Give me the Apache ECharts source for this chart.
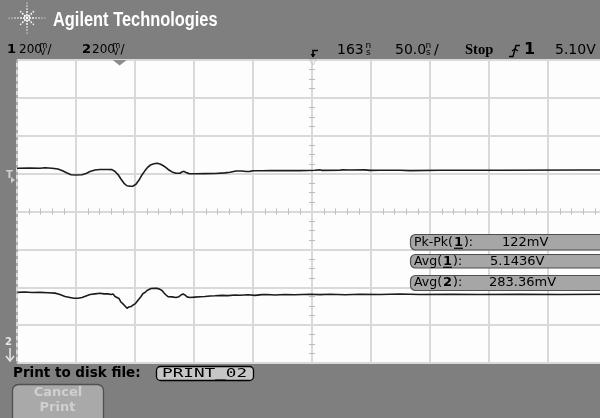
<!DOCTYPE html>
<html>
<head>
<meta charset="utf-8">
<script src="https://cdn.jsdelivr.net/npm/echarts@6/dist/echarts.min.js"></script>
<style>
  html, body { margin: 0; padding: 0; width: 600px; height: 418px; overflow: hidden; background: #7f7f7f; }
  #scope { width: 607px; height: 418px; }
</style>
</head>
<body>
<div id="scope"></div>
<script>
// Horizontal: ns from screen centre (50 ns/div, 10 divisions).
// Vertical: mV from screen centre (200 mV/div on both channels, 8 divisions).
const TIME_PER_DIV = 50;
const VOLT_PER_DIV = 200;
const DELAY_NS = 163;

const ch1Time = [-250, -239, -230.5, -226.3, -220.3, -215.3, -211, -207.6, -204.2, -200, -194.9, -191.5,
  -188.1, -183.9, -179.7, -172.9, -169.5, -166.9, -164.4, -161.9, -159.3, -156.8, -154.2, -151.7,
  -149.2, -146.6, -144.1, -141.5, -139, -136.4, -133.9, -131.4, -128.8, -126.3, -123.7, -121.2,
  -118.6, -115.3, -111.9, -110.2, -108.5, -106.8, -104.2, -99.2, -90.7, -82.2, -73.7, -69.5,
  -64.4, -59.3, -55.9, -52.5, -50, -42.4, -35.6, -27.1, -10.2, 2.5, 3.4, 6.8, 8.5, 23.7, 25.4,
  32.2, 44.9, 49.2, 57.6, 74.6, 83.1, 108.5, 159.3, 227.1, 250];
const ch1Level = [228, 229, 228, 231, 228, 224, 214, 203, 194, 193, 194, 201,
  211, 219, 222, 222, 221, 211, 195, 172, 149, 136, 133, 134,
  144, 166, 193, 216, 235, 247, 252, 255, 251, 243, 232, 219,
  209, 202, 202, 209, 212, 206, 200, 199, 200, 201, 204, 207,
  214, 214, 211, 212, 215, 215, 216, 216, 216, 218, 221, 220, 217, 218, 220,
  219, 220, 217, 218, 218, 216, 218, 218, 219, 219];

const ch2Time = [-250, -243.2, -237.3, -230.5, -223.7, -217.8, -213.6, -209.3, -205.1, -201.7, -198.3,
  -194.9, -191.5, -188.1, -183.9, -179.7, -176.3, -172.9, -170.3, -168.6, -166.9, -165.3, -163.6,
  -161.9, -160.2, -158.5, -156.8, -155.1, -153.4, -151.7, -150, -148.3, -146.6, -144.9, -143.2,
  -141.5, -139.8, -138.1, -136.4, -133.9, -131.4, -128.8, -127.1, -125.4, -123.7, -122, -118.6,
  -115.3, -112.7, -111, -109.3, -107.6, -105.9, -103.4, -99.2, -94.9, -90.7, -86.4, -82.2, -76.3,
  -71.2, -65.3, -61, -54.2, -48.3, -42.4, -38.1, -31.4, -22.9, -14.4, -1.7, 6.8, 15.3, 28, 40.7,
  57.6, 74.6, 91.5, 116.9, 142.4, 176.3, 210.2, 250];
const ch2Level = [-427, -425, -428, -427, -429, -431, -438, -449, -454, -458, -458,
  -454, -446, -438, -435, -432, -435, -435, -438, -436, -449, -457, -459,
  -478, -488, -499, -511, -504, -502, -494, -488, -475, -462, -449, -433,
  -428, -417, -412, -407, -405, -406, -411, -417, -430, -441, -450, -451,
  -454, -450, -441, -436, -441, -451, -454, -452, -450, -449, -446, -445, -443,
  -444, -441, -442, -440, -443, -439, -438, -441, -438, -440, -437, -439, -437, -440, -437,
  -438, -436, -438, -437, -438, -437, -438, -437];

const measureLabels = ['Pk-Pk(', 'Avg(', 'Avg('];
const measureChannels = ['1', '1', '2'];
const measureValues = ['122mV', '5.1436V', '283.36mV'];
const fileName = 'PRINT_02';

const chart = echarts.init(document.getElementById('scope'), null, { renderer: 'canvas' });

const GRID = { left: 17, top: 60, width: 590, height: 303 };
const gridColor = '#d9d9d9';
const tickColor = '#bdbdbd';

function centreAxis(extra) {
  return Object.assign({
    type: 'value',
    axisLabel: { show: false },
    axisTick: { show: false },
    axisLine: { show: true, onZero: true, onZeroAxisIndex: 0, lineStyle: { color: gridColor, width: 1 } },
    splitLine: { show: false },
    minorTick: { show: true, length: 3, lineStyle: { color: tickColor, width: 1 } },
    minorSplitLine: { show: false }
  }, extra);
}

const xMin = -TIME_PER_DIV * 5, xMax = TIME_PER_DIV * 5;
const yMin = -VOLT_PER_DIV * 4, yMax = VOLT_PER_DIV * 4;

const FONT = '"DejaVu Sans"';
const measureCtx = document.createElement('canvas').getContext('2d');
function textWidth(text, font) { measureCtx.font = font; return measureCtx.measureText(text).width; }

function txt(x, y, text, font, fill, align, extra) {
  return Object.assign({
    type: 'text', x: x, y: y, z: 100,
    style: {
      text: text, font: font, fill: fill || '#000',
      textAlign: align || 'left', align: align || 'left',
      textVerticalAlign: 'middle', verticalAlign: 'middle'
    }
  }, extra || {});
}

const g = [];

// Agilent starburst logo
(function () {
  const cx = 27, cy = 18;
  for (let k = 0; k < 8; k++) {
    const a = k * Math.PI / 4;
    const len = (k % 4 === 0) ? 20 : (k % 2 === 0 ? 15 : 11);
    for (let r = 3; r <= len; r += 3) {
      g.push({ type: 'circle', z: 100,
        shape: { cx: cx + r * Math.cos(a), cy: cy + r * Math.sin(a), r: Math.max(0.45, 1.15 - r * 0.035) },
        style: { fill: '#ffffff' } });
    }
  }
  g.push({ type: 'circle', z: 100, shape: { cx: cx, cy: cy, r: 1.4 }, style: { fill: '#ffffff' } });
})();
g.push(txt(53, 20.5, 'Agilent Technologies', 'bold 20px "Liberation Sans"', '#ffffff', 'left', { scaleX: 0.82 }));

// Channel scale row
function unitStack(x, top, bottom, size) {
  g.push(txt(x, 46, top, size + 'px ' + FONT, '#000'));
  g.push(txt(x + 0.5, 52.5, bottom, size + 'px ' + FONT, '#000'));
}
g.push(txt(7, 50, '1', 'bold 13px ' + FONT, '#000'));
g.push(txt(19, 50, String(VOLT_PER_DIV), '12px ' + FONT, '#000'));
unitStack(39.5, 'm', 'V', 8);
g.push(txt(47.5, 50, '/', '12px ' + FONT, '#000'));
g.push(txt(82, 50, '2', 'bold 13px ' + FONT, '#000'));
g.push(txt(92, 50, String(VOLT_PER_DIV), '12px ' + FONT, '#000'));
unitStack(112.5, 'm', 'V', 8);
g.push(txt(120.5, 50, '/', '12px ' + FONT, '#000'));

// Delay reference symbol
g.push({ type: 'polyline', z: 100, shape: { points: [[318, 50.5], [313, 50.5], [313, 57]] },
  style: { stroke: '#000', lineWidth: 1.5, fill: null } });
g.push({ type: 'polygon', z: 100, shape: { points: [[310.5, 54], [315.5, 54], [313, 57.5]] },
  style: { fill: '#000' } });
g.push({ type: 'polygon', z: 100, shape: { points: [[309.5, 59.5], [316.5, 59.5], [313, 65]] },
  style: { fill: null, stroke: '#c8c8c8', lineWidth: 1 } });

g.push(txt(337, 50, String(DELAY_NS), '14px ' + FONT, '#000'));
unitStack(365.5, 'n', 's', 9);
g.push(txt(395, 50, TIME_PER_DIV.toFixed(1), '14px ' + FONT, '#000'));
unitStack(425.5, 'n', 's', 9);
g.push(txt(434, 50, '/', '14px ' + FONT, '#000'));
g.push(txt(465, 50, 'Stop', 'bold 14.5px "Liberation Serif"', '#000'));

// Rising-edge trigger symbol
g.push({ type: 'polyline', z: 100, shape: { points: [[509, 56.5], [513, 56.5], [516, 45.5], [520, 45.5]] },
  style: { stroke: '#000', lineWidth: 1.4, fill: null } });
g.push({ type: 'polyline', z: 100, shape: { points: [[512, 51], [515, 49], [518, 51]] },
  style: { stroke: '#000', lineWidth: 1.2, fill: null } });
g.push(txt(524, 50, '1', 'bold 16px ' + FONT, '#000'));
g.push(txt(555, 50, '5.10V', '14px ' + FONT, '#000'));

// Left edge of the graticule
g.push({ type: 'line', z: 90, shape: { x1: 17, y1: 60, x2: 17, y2: 363 },
  style: { stroke: '#9a9a9a', lineWidth: 1.5, lineDash: [3, 4] } });

// Trigger level marker and channel 2 offscreen marker
g.push(txt(6, 175, 'T', 'bold 10px ' + FONT, '#cfcfcf'));
g.push({ type: 'polygon', z: 100, shape: { points: [[11, 177], [15, 180], [11, 183]] }, style: { fill: '#cfcfcf' } });
g.push(txt(5, 342, '2', 'bold 10px ' + FONT, '#e6e6e6'));
g.push({ type: 'line', z: 100, shape: { x1: 10, y1: 348, x2: 10, y2: 361 }, style: { stroke: '#e6e6e6', lineWidth: 1.5 } });
g.push({ type: 'polyline', z: 100, shape: { points: [[6, 356], [10, 361], [14, 356]] },
  style: { stroke: '#e6e6e6', lineWidth: 1.5, fill: null } });

// Measurement readouts
const boxTops = [234.5, 254.5, 275.5];
const boxHeights = [15.5, 13.5, 15];
const valueX = [502, 490, 489];
const labelFont = '12.5px ' + FONT;
const chanFont = 'bold 13px ' + FONT;
for (let i = 0; i < measureValues.length; i++) {
  const top = boxTops[i], h = boxHeights[i];
  const cy = top + h / 2;
  g.push({ type: 'rect', z: 100, shape: { x: 410.5, y: top, width: 200, height: h, r: 5 },
    style: { fill: '#a6a6a6', stroke: '#4f4f4f', lineWidth: 1.2 } });
  const lx = 414;
  const cx = lx + textWidth(measureLabels[i], labelFont) + 1;
  const cw = textWidth(measureChannels[i], chanFont);
  g.push(txt(lx, cy, measureLabels[i], labelFont, '#000'));
  g.push(txt(cx, cy, measureChannels[i], chanFont, '#000'));
  g.push(txt(cx + cw + 1, cy, '):', labelFont, '#000'));
  if (measureChannels[i] === '1') {
    g.push({ type: 'line', z: 101, shape: { x1: cx, y1: cy + 6, x2: cx + cw, y2: cy + 6 },
      style: { stroke: '#000', lineWidth: 1.2 } });
  }
  g.push(txt(valueX[i], cy, measureValues[i], '13px ' + FONT, '#000'));
}

// Bottom softkey panel
g.push(txt(13, 373, 'Print to disk file:', 'bold 13.5px ' + FONT, '#000'));
g.push({ type: 'rect', z: 100, shape: { x: 156.5, y: 366.5, width: 97, height: 14, r: 4 },
  style: { fill: '#c6c6c6', stroke: '#000', lineWidth: 1.3 } });
g.push(txt(162, 373.5, fileName, '13px "DejaVu Sans Mono"', '#000', 'left', { scaleX: 1.36 }));
g.push({ type: 'rect', z: 100, shape: { x: 12.5, y: 384.5, width: 91, height: 40, r: 6 },
  style: { fill: '#a9a9a9', stroke: '#505050', lineWidth: 1.3 } });
g.push(txt(58, 393, 'Cancel', 'bold 13px ' + FONT, '#d0d0d0', 'center'));
g.push(txt(57.5, 407.5, 'Print', 'bold 13px ' + FONT, '#d0d0d0', 'center'));

const traceStyle = { color: '#1c1c1c', width: 1.6 };

chart.setOption({
  animation: false,
  backgroundColor: '#7f7f7f',
  grid: Object.assign({ show: true, backgroundColor: '#fdfdfd', borderWidth: 0, outerBoundsMode: 'none', containLabel: false }, GRID),
  xAxis: [
    centreAxis({ min: xMin, max: xMax, interval: TIME_PER_DIV, position: 'bottom',
      splitLine: { show: true, lineStyle: { color: gridColor, width: 2 } },
      minorTick: { show: true, splitNumber: 5, length: 3, lineStyle: { color: tickColor, width: 1 } } }),
    centreAxis({ min: xMin, max: xMax, interval: TIME_PER_DIV, position: 'top',
      minorTick: { show: true, splitNumber: 5, length: 3, lineStyle: { color: tickColor, width: 1 } } })
  ],
  yAxis: [
    centreAxis({ min: yMin, max: yMax, interval: VOLT_PER_DIV, position: 'left',
      splitLine: { show: true, lineStyle: { color: gridColor, width: 2 } },
      minorTick: { show: true, splitNumber: 4, length: 3, lineStyle: { color: tickColor, width: 1 } } }),
    centreAxis({ min: yMin, max: yMax, interval: VOLT_PER_DIV, position: 'right',
      minorTick: { show: true, splitNumber: 4, length: 3, lineStyle: { color: tickColor, width: 1 } } })
  ],
  series: [
    { name: 'Channel 1', type: 'line', xAxisIndex: 0, yAxisIndex: 0, symbol: 'none', z: 5,
      data: ch1Time.map((t, i) => [t, ch1Level[i]]), lineStyle: traceStyle },
    { name: 'Channel 2', type: 'line', xAxisIndex: 0, yAxisIndex: 0, symbol: 'none', z: 5,
      data: ch2Time.map((t, i) => [t, ch2Level[i]]), lineStyle: traceStyle }
  ],
  graphic: { elements: g }
});

// Trigger-point marker on the top edge, placed at -delay on the time axis
const trig = chart.convertToPixel({ gridIndex: 0 }, [-DELAY_NS, yMax]);
chart.setOption({
  graphic: { elements: [{ id: 'trigPoint', type: 'polygon', z: 100,
    shape: { points: [[trig[0] - 7, trig[1]], [trig[0] + 7, trig[1]], [trig[0], trig[1] + 5.5]] },
    style: { fill: '#8c8c8c' } }] }
});
</script>
</body>
</html>
